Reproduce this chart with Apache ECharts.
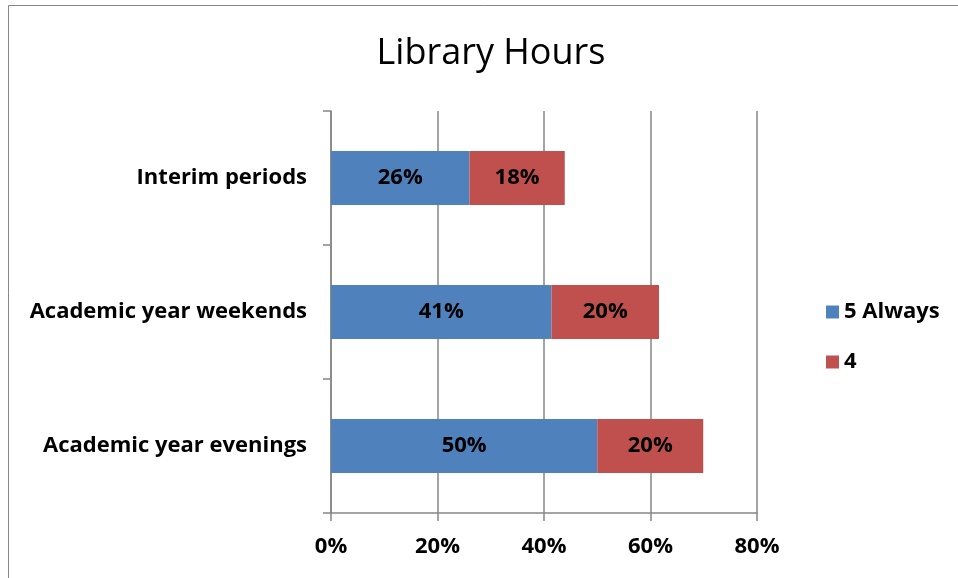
<!DOCTYPE html>
<html>
<head>
<meta charset="utf-8">
<script src="https://cdn.jsdelivr.net/npm/echarts@6/dist/echarts.min.js"></script>
<style>html,body{margin:0;padding:0;background:#fff}#c{width:958px;height:578px}</style>
</head>
<body>
<div id="c"></div>
<script>
const categories = ['Academic year evenings', 'Academic year weekends', 'Interim periods'];
const seriesNames = ['5 Always', '4'];
const always5 = [50.0, 41.4, 26.0];
const four = [19.9, 20.2, 17.9];
const xTicks = [0, 20, 40, 60, 80];

const chart = echarts.init(document.getElementById('c'), null, {renderer: 'canvas'});
const FONT = 'Open Sans';
const labelCfg = {
  show: true, position: 'inside', color: '#000', fontFamily: FONT, fontWeight: 'bold', fontSize: 22,
  formatter: p => Math.round(p.value) + '%'
};
chart.setOption({
  animation: false,
  backgroundColor: '#fff',
  title: {
    text: 'Library Hours', left: 486, top: 31, textAlign: 'center',
    textStyle: {fontFamily: FONT, fontWeight: 'normal', fontSize: 36, color: '#000'}
  },
  graphic: [{
    type: 'rect', shape: {x: 8.5, y: 5.5, width: 1000, height: 1000},
    style: {fill: 'none', stroke: '#868686', lineWidth: 1}, silent: true
  }],
  legend: {
    orient: 'vertical', left: 821, top: 296, itemWidth: 13, itemHeight: 13, itemGap: 28,
    icon: 'rect', data: seriesNames,
    textStyle: {fontFamily: FONT, fontWeight: 'bold', fontSize: 22, color: '#000'}
  },
  grid: {left: 331, right: 201, top: 111, bottom: 65, containLabel: false},
  xAxis: {
    type: 'value', min: xTicks[0], max: xTicks[xTicks.length - 1], interval: 20,
    axisLine: {show: true, lineStyle: {color: '#868686', width: 1.5}},
    axisTick: {show: true, length: 8, lineStyle: {color: '#868686', width: 1.5}},
    splitLine: {show: true, lineStyle: {color: '#868686', width: 1.5}},
    axisLabel: {formatter: v => v + '%', margin: 23, color: '#000', fontFamily: FONT, fontWeight: 'bold', fontSize: 22}
  },
  yAxis: {
    type: 'category', data: categories,
    axisLine: {show: true, lineStyle: {color: '#868686', width: 1.5}},
    axisTick: {show: true, length: 8, lineStyle: {color: '#868686', width: 1.5}},
    axisLabel: {margin: 24, color: '#000', fontFamily: FONT, fontWeight: 'bold', fontSize: 22}
  },
  series: [
    {name: seriesNames[0], type: 'bar', stack: 's', data: always5, barWidth: 54,
     itemStyle: {color: '#4F81BD'}, label: labelCfg},
    {name: seriesNames[1], type: 'bar', stack: 's', data: four, barWidth: 54,
     itemStyle: {color: '#C0504D'}, label: labelCfg}
  ]
});
</script>
</body>
</html>
